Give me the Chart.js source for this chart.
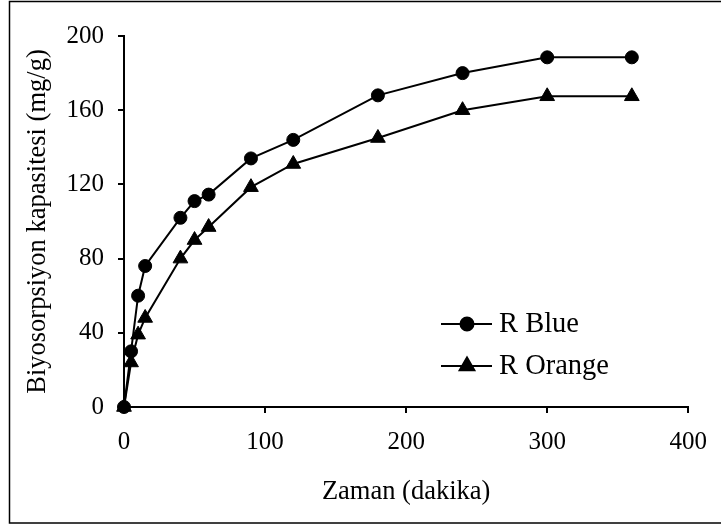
<!DOCTYPE html>
<html lang="tr">
<head>
<meta charset="UTF-8">
<title>Biyosorpsiyon kapasitesi</title>
<script src="https://cdn.jsdelivr.net/npm/chart.js"></script>
<style>
  body { margin: 0; background: #ffffff; }
  #wrap { width: 721px; height: 526px; }
</style>
</head>
<body>
<div id="wrap"><canvas id="chart" width="721" height="526"></canvas></div>
<script>
  // Zaman (dakika) ve biyosorpsiyon kapasitesi (mg/g)
  const zaman = [0, 5, 10, 15, 40, 50, 60, 90, 120, 180, 240, 300, 360];
  const rBlue = [0, 30, 60, 76, 102, 111, 114.5, 134, 144, 168, 180, 188.5, 188.5];
  const rOrange = [0, 24, 39, 48, 80, 90, 97, 118.5, 131, 145, 160, 167.5, 167.5];
  const seriesNames = ['R Blue', 'R Orange'];
  const xTicks = [0, 100, 200, 300, 400];
  const yTicks = [0, 40, 80, 120, 160, 200];

  const FONT = "'Liberation Serif', 'Times New Roman', serif";

  function points(ys) {
    return zaman.map((x, i) => ({ x: x, y: ys[i] }));
  }

  // white background + outer frame (right edge falls outside the picture)
  const frame = {
    id: 'frame',
    beforeDraw(chart) {
      const ctx = chart.ctx;
      ctx.save();
      ctx.fillStyle = '#ffffff';
      ctx.fillRect(0, 0, chart.width, chart.height);
      ctx.restore();
    },
    afterDraw(chart) {
      const ctx = chart.ctx;
      ctx.save();
      ctx.strokeStyle = '#000000';
      ctx.lineWidth = 1.5;
      ctx.strokeRect(9.5, 1.5, 730, 521.5);
      ctx.restore();
    }
  };

  // legend drawn inside the plot, line + marker + text like Excel
  const insideLegend = {
    id: 'insideLegend',
    afterDraw(chart) {
      const ctx = chart.ctx;
      const rows = [324, 366];
      ctx.save();
      chart.data.datasets.forEach((ds, i) => {
        const y = rows[i];
        ctx.strokeStyle = ds.borderColor;
        ctx.lineWidth = ds.borderWidth;
        ctx.beginPath();
        ctx.moveTo(441, y);
        ctx.lineTo(492, y);
        ctx.stroke();
        ctx.fillStyle = ds.backgroundColor;
        Chart.helpers.drawPoint(ctx, {
          pointStyle: ds.pointStyle,
          radius: ds.pointRadius,
          borderWidth: 1
        }, 467, y);
        ctx.fillStyle = '#000000';
        ctx.font = '28.5px ' + FONT;
        ctx.textAlign = 'left';
        ctx.textBaseline = 'middle';
        ctx.fillText(ds.label, 499, y + 1);
      });
      ctx.restore();
    }
  };

  const ctx = document.getElementById('chart').getContext('2d');
  new Chart(ctx, {
    type: 'line',
    data: {
      datasets: [
        {
          label: seriesNames[0],
          data: points(rBlue),
          borderColor: '#000000',
          backgroundColor: '#000000',
          borderWidth: 2,
          pointStyle: 'circle',
          pointRadius: 6.5,
          pointBorderWidth: 1,
          tension: 0,
          clip: false
        },
        {
          label: seriesNames[1],
          data: points(rOrange),
          borderColor: '#000000',
          backgroundColor: '#000000',
          borderWidth: 2,
          pointStyle: 'triangle',
          pointRadius: 8.5,
          pointBorderWidth: 1,
          tension: 0,
          clip: false
        }
      ]
    },
    options: {
      responsive: false,
      animation: false,
      layout: { padding: { top: 36, right: 31, left: 0, bottom: 0 } },
      plugins: {
        legend: { display: false },
        tooltip: { enabled: false }
      },
      scales: {
        x: {
          type: 'linear',
          min: 0,
          max: 400,
          afterBuildTicks(scale) {
            scale.ticks = xTicks.map(v => ({ value: v }));
          },
          afterFit(scale) { scale.height = 119; },
          grid: { display: true, drawOnChartArea: false, drawTicks: true, tickLength: 6, color: '#000000', lineWidth: 2 },
          border: { display: true, color: '#000000', width: 2 },
          ticks: { color: '#000000', padding: 14, maxRotation: 0, font: { family: FONT, size: 25 } },
          title: {
            display: true,
            text: 'Zaman (dakika)',
            color: '#000000',
            font: { family: FONT, size: 26.5 },
            padding: { top: 0, bottom: 18 }
          }
        },
        y: {
          type: 'linear',
          min: 0,
          max: 200,
          afterBuildTicks(scale) {
            scale.ticks = yTicks.map(v => ({ value: v }));
          },
          afterFit(scale) { scale.width = 124; },
          grid: { display: true, drawOnChartArea: false, drawTicks: true, tickLength: 6, color: '#000000', lineWidth: 2 },
          border: { display: true, color: '#000000', width: 2 },
          ticks: { color: '#000000', padding: 14, font: { family: FONT, size: 25 } },
          title: {
            display: true,
            text: 'Biyosorpsiyon kapasitesi (mg/g)',
            color: '#000000',
            font: { family: FONT, size: 26.5 },
            padding: { top: 22, bottom: 0 }
          }
        }
      }
    },
    plugins: [frame, insideLegend]
  });
</script>
</body>
</html>
